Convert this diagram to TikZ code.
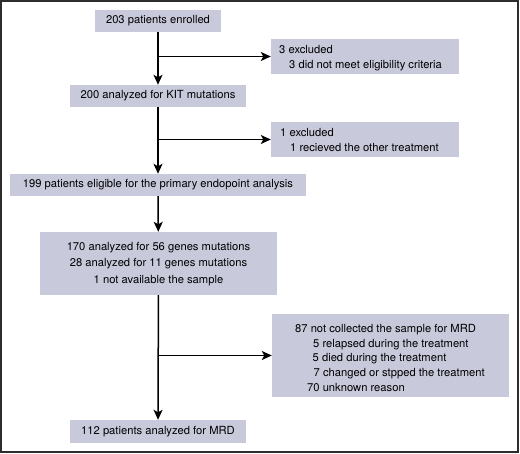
\documentclass[tikz,border=0pt]{standalone}
\usepackage{fontspec}
\setmainfont{TeX Gyre Heros}
\usetikzlibrary{arrows.meta}
\definecolor{boxfill}{RGB}{200,201,219}
\definecolor{framecol}{RGB}{45,45,45}
\tikzset{
  box/.style={fill=boxfill, draw=none, inner sep=0pt, font=\fontsize{11.2}{14}\selectfont, text=black},
  ln/.style={anchor=base west, inner sep=0pt, font=\fontsize{11.2}{14}\selectfont},
  lc/.style={anchor=base, inner sep=0pt, font=\fontsize{11.2}{14}\selectfont},
  arr/.style={line width=1.5pt, -{Stealth[length=10pt,width=9pt,inset=2.5pt]}},
  conn/.style={line width=1.5pt}
}
\begin{document}
\begin{tikzpicture}[x=1pt,y=-1pt]
\useasboundingbox (0,0) rectangle (520,453);
\draw[framecol, line width=1.6pt] (0.8,0.8) rectangle (518.2,451.7);

\node[box, minimum width=126pt, minimum height=22pt] (b1) at (158,21) {203 patients enrolled};
\node[box, minimum width=188pt, minimum height=35pt] (b2) at (365,56.5) {};
\node[ln] (b2a) at (279,53.5) {3 excluded};
\node[ln] (b2b) at (289,68.3) {3 did not meet eligibility criteria};
\node[box, minimum width=176pt, minimum height=22pt] (b3) at (158,96) {200 analyzed for KIT mutations};
\node[box, minimum width=188pt, minimum height=35pt] (b4) at (365,139.5) {};
\node[ln] (b4a) at (280,136.7) {1 excluded};
\node[ln] (b4b) at (290,151.7) {1 recieved the other treatment};
\node[box, minimum width=296pt, minimum height=22pt] (b5) at (158,185) {199 patients eligible for the primary endopoint analysis};
\node[box, minimum width=237pt, minimum height=63pt] (b6) at (158.5,263.5) {};
\node[lc] (b6a) at (158.5,250) {170 analyzed for 56 genes mutations};
\node[lc] (b6b) at (158.5,266.5) {28 analyzed for 11 genes mutations};
\node[lc] (b6c) at (158.5,283) {1 not available the sample};
\node[box, minimum width=237pt, minimum height=83pt] (b7) at (390.5,355.5) {};
\node[ln] (b7a) at (295,332.3) {87 not collected the sample for MRD};
\node[ln] (b7b) at (313,347) {5 relapsed during the treatment};
\node[ln] (b7c) at (312.5,361.7) {5 died during the treatment};
\node[ln] (b7d) at (313.5,376.3) {7 changed or stpped the treatment};
\node[ln] (b7e) at (307,391.3) {70 unknown reason};
\node[box, minimum width=176pt, minimum height=23pt] (b8) at (158,431.5) {112 patients analyzed for MRD};

\draw[arr] (b1) -- (b3);
\draw[arr] (b1 |- b2.west) -- (b2.west);
\draw[arr] (b3) -- (b5);
\draw[arr] (b3 |- b4.west) -- (b4.west);
\draw[arr] (b5) -- (b6);
\draw[arr] (b6) -- (b8);
\draw[arr] (b6 |- b7.west) -- (b7.west);
\end{tikzpicture}
\end{document}
